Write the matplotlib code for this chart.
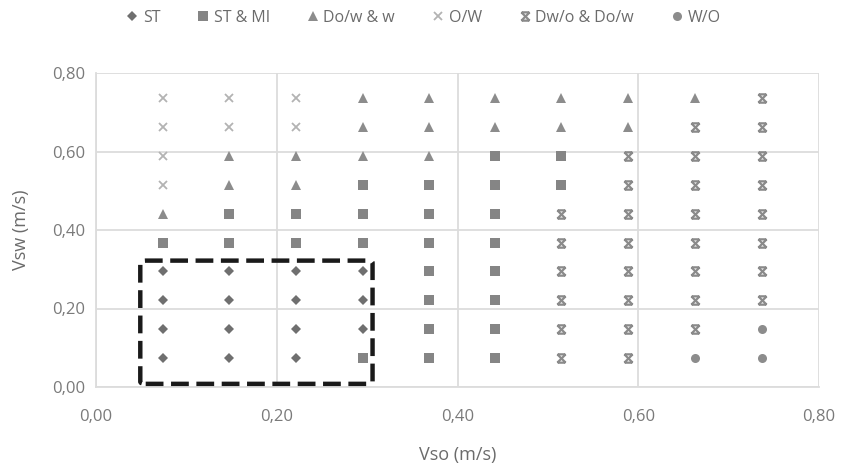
import matplotlib
matplotlib.use("Agg")
import matplotlib.pyplot as plt
from matplotlib.path import Path
from matplotlib.patches import FancyBboxPatch
import numpy as np

plt.rcParams['font.family'] = ['Open Sans', 'DejaVu Sans']

# Superficial velocities (m/s)
vso = [0.074, 0.147, 0.221, 0.295, 0.368, 0.442, 0.515, 0.589, 0.663, 0.737]
vsw = [0.074, 0.147, 0.221, 0.295, 0.368, 0.442, 0.515, 0.589, 0.663, 0.737]

# Flow-pattern codes, rows from top (vsw=0.737) to bottom (vsw=0.074)
# S = ST, M = ST & MI, T = Do/w & w, O = O/W, D = Dw/o & Do/w, W = W/O
regime_rows = [
    "OOOTTTTTTD",
    "OOOTTTTTDD",
    "OTTTTMMDDD",
    "OTTMMMMDDD",
    "TMMMMMDDDD",
    "MMMMMMDDDD",
    "SSSSMMDDDD",
    "SSSSMMDDDD",
    "SSSSMMDDDW",
    "SSSMMMDDWW",
]

series_codes = ["S", "M", "T", "O", "D", "W"]
series_labels = ["ST", "ST & MI", "Do/w & w", "O/W", "Dw/o & Do/w", "W/O"]

# Highlight box (data coords)
box_x = [0.049, 0.306]
box_y = [0.008, 0.322]

xticks = [0.0, 0.2, 0.4, 0.6, 0.8]
yticks = [0.0, 0.2, 0.4, 0.6, 0.8]

# custom marker: x with bars
xbar = Path(
    [(-1, 1), (1, -1), (-1, -1), (1, 1), (-0.9, 1), (0.9, 1), (-0.9, -1), (0.9, -1)],
    [Path.MOVETO, Path.LINETO, Path.MOVETO, Path.LINETO,
     Path.MOVETO, Path.LINETO, Path.MOVETO, Path.LINETO])

styles = {
    "S": dict(marker="D", color="#6f6f6f", ms=5.0, mew=0),
    "M": dict(marker="s", color="#858585", ms=6.5, mew=0),
    "T": dict(marker="^", color="#8c8c8c", ms=7.0, mew=0),
    "O": dict(marker="x", color="#b3b3b3", ms=6.0, mew=1.3),
    "D": dict(marker=xbar, color="#8a8a8a", ms=6.0, mew=1.6),
    "W": dict(marker="o", color="#8c8c8c", ms=6.5, mew=0),
}

fig = plt.figure(figsize=(8.45, 4.70), dpi=100)
ax = fig.add_axes([96/845, 1-387/470, (819-96)/845, (387-73)/470])

for code, label in zip(series_codes, series_labels):
    xs, ys = [], []
    for r, row in enumerate(regime_rows):
        for c, ch in enumerate(row):
            if ch == code:
                xs.append(vso[c])
                ys.append(vsw[len(vsw) - 1 - r])
    st = styles[code]
    face = "none" if code == "D" else st["color"]
    ax.plot(xs, ys, linestyle="none", marker=st["marker"], color=st["color"],
            markersize=st["ms"], markeredgewidth=st["mew"],
            markerfacecolor=face,
            markeredgecolor=st["color"], label=label, zorder=3)

box = FancyBboxPatch((box_x[0], box_y[0]), box_x[1]-box_x[0], box_y[1]-box_y[0],
                     boxstyle="round,pad=0,rounding_size=0.006",
                     fill=False, edgecolor="#1a1a1a", linewidth=3.2,
                     linestyle=(0, (4.0, 1.7)), zorder=4, clip_on=False)
ax.add_patch(box)

ax.set_xlim(0, 0.8)
ax.set_ylim(0, 0.8)
ax.set_xticks(xticks)
ax.set_yticks(yticks)
fmt = lambda v: f"{v:.2f}".replace(".", ",")
ax.set_xticklabels([fmt(v) for v in xticks])
ax.set_yticklabels([fmt(v) for v in yticks])
ax.tick_params(length=0, labelsize=12, colors="#7a7a7a", pad=8)
ax.tick_params(axis="x", pad=16)
ax.grid(True, color="#dcdcdc", linewidth=1.3)
ax.set_axisbelow(True)
for s in ["top", "right"]:
    ax.spines[s].set_visible(False)
for s in ["left", "bottom"]:
    ax.spines[s].set_color("#dcdcdc")
    ax.spines[s].set_linewidth(1.3)

ax.set_xlabel("Vso (m/s)", fontsize=13, color="#6b6b6b", labelpad=15)
ax.set_ylabel("Vsw (m/s)", fontsize=13, color="#6b6b6b", labelpad=16)

leg = fig.legend(loc="center", bbox_to_anchor=(0.5, 1-18/470), ncol=6, frameon=False,
                 fontsize=11.5, handletextpad=0.15, columnspacing=2.2,
                 handlelength=1.0, labelcolor="#6b6b6b")

fig.savefig("out.png", dpi=100)
